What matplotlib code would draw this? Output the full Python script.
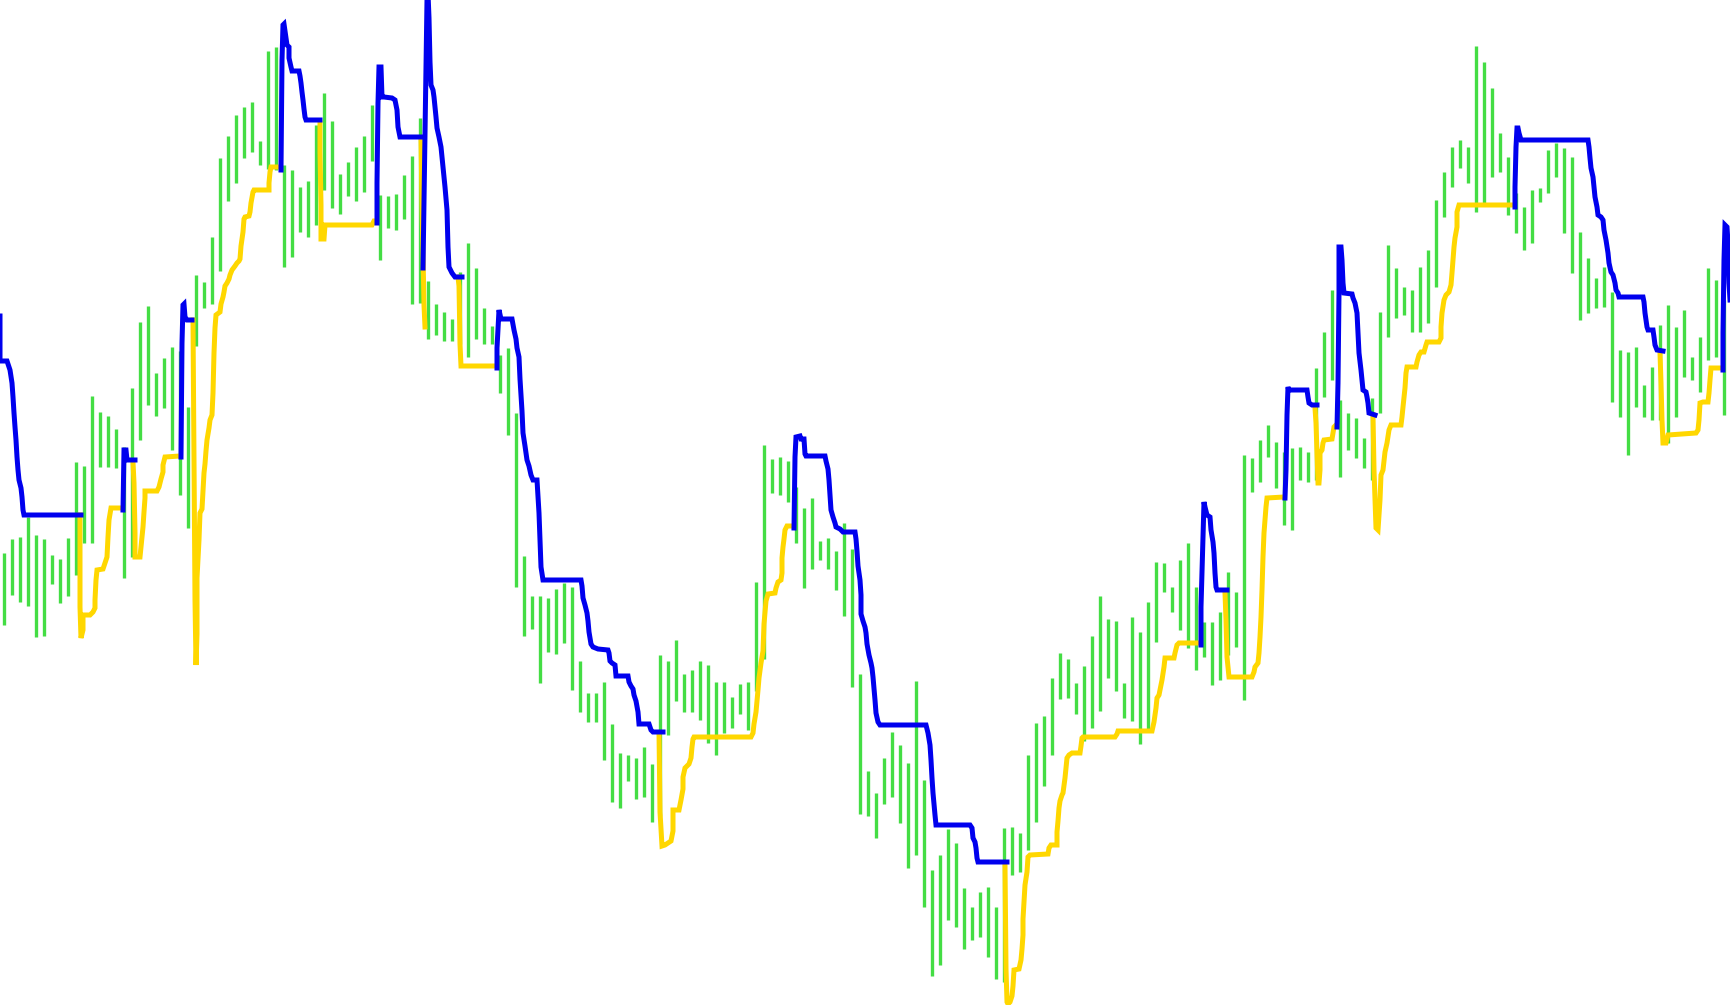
import numpy as np
import matplotlib
matplotlib.use("Agg")
from matplotlib import pyplot as plt

# price bars (each bar = range of a few ticks), high / low
high = [452, 466, 468, 488, 470, 466, 450, 446, 467, 543, 539, 609, 593, 589, 576, 558, 617, 683, 699, 632, 647, 658, 654, 598,
        730, 723, 768, 847, 869, 890, 898, 903, 864, 954, 958, 840, 835, 818, 824, 880, 912, 884, 831, 843, 858, 869, 900, 810,
        809, 811, 830, 849, 887, 724, 701, 693, 686, 733, 762, 737, 697, 679, 650, 657, 592, 449, 409, 409, 407, 416, 422, 418,
        344, 312, 312, 323, 281, 252, 250, 247, 258, 241, 350, 344, 365, 331, 335, 344, 340, 323, 323, 308, 321, 323, 423, 560,
        546, 548, 544, 518, 497, 507, 464, 467, 454, 482, 456, 331, 234, 212, 247, 273, 260, 242, 324, 225, 135, 150, 176, 162,
        117, 98, 113, 118, 98, 177, 178, 172, 250, 282, 289, 327, 352, 346, 322, 339, 369, 409, 386, 384, 322, 388, 373, 403,
        443, 442, 418, 445, 462, 418, 383, 383, 393, 433, 413, 550, 547, 565, 580, 563, 553, 557, 558, 553, 637, 673, 715, 605,
        592, 587, 567, 607, 693, 760, 737, 718, 715, 738, 755, 805, 833, 858, 865, 858, 959, 943, 917, 872, 848, 812, 798, 815,
        817, 855, 862, 857, 848, 773, 747, 727, 738, 713, 655, 653, 658, 620, 638, 680, 700, 678, 695, 648, 668, 737, 725, 705]
low = [380, 410, 403, 399, 368, 369, 421, 402, 409, 430, 462, 462, 538, 538, 537, 427, 448, 565, 600, 589, 597, 555, 510, 477,
       659, 697, 701, 734, 804, 822, 847, 853, 840, 836, 835, 738, 748, 773, 768, 780, 815, 797, 791, 809, 804, 813, 844, 745,
       777, 775, 786, 701, 702, 666, 670, 664, 664, 661, 648, 666, 661, 661, 612, 570, 418, 369, 376, 322, 353, 351, 362, 315,
       293, 283, 283, 245, 203, 197, 224, 206, 208, 183, 189, 270, 304, 293, 293, 285, 262, 250, 272, 277, 291, 275, 314, 346,
       512, 510, 503, 462, 417, 436, 445, 436, 415, 389, 318, 191, 189, 167, 201, 208, 182, 137, 150, 98, 29, 40, 85, 78,
       56, 65, 68, 48, 26, 23, 130, 133, 155, 183, 219, 250, 306, 307, 291, 264, 277, 294, 327, 314, 287, 284, 261, 274,
       363, 413, 393, 375, 357, 335, 348, 320, 325, 350, 358, 305, 513, 523, 548, 517, 480, 475, 525, 523, 525, 608, 625, 528,
       555, 547, 537, 525, 592, 668, 687, 690, 673, 673, 682, 718, 788, 818, 837, 822, 793, 800, 828, 833, 790, 772, 755, 762,
       803, 812, 828, 772, 732, 685, 692, 697, 698, 603, 588, 550, 598, 588, 585, 585, 562, 588, 628, 625, 613, 645, 648, 590]

# trailing stop below price (uptrend), one list of (tick, level) per leg
stop_up = [
    [(40, 490), (40, 398), (40.5, 367), (41.5, 375), (41.5, 390), (45, 390), (46.5, 393), (47.5, 397), (47.5, 405),
     (48, 425), (48.5, 435), (51.5, 436), (52.5, 442), (53.5, 448), (54, 468), (54.5, 485), (55.5, 497), (61, 497)],
    [(66.5, 543), (67, 522), (67.5, 472), (67.5, 448), (70, 448), (71, 468), (71.5, 478), (72, 493), (72.5, 507),
     (72.5, 514), (78.5, 514), (79.5, 518), (80.5, 526), (81.5, 533), (81.5, 540), (82.5, 548), (90, 549)],
    [(96.5, 685), (97.5, 405), (98, 340), (98.5, 371), (98.5, 427), (99.5, 465), (100, 492), (101, 496), (101.5, 514),
     (102, 532), (102.5, 541), (103, 554), (103.5, 565), (104.5, 577), (105, 585), (106, 590), (106.5, 612), (107, 652),
     (107.5, 677), (108, 690), (110, 693), (110.5, 701), (111.5, 708), (112, 713), (112.5, 719), (113.5, 722),
     (114.5, 726), (115, 730), (116, 735), (117.5, 739), (118.5, 742), (119.5, 744), (120, 746), (120.5, 759),
     (121.5, 773), (122, 786), (122.5, 788), (124.5, 789), (125, 793), (125.5, 802), (126.5, 813), (127, 815),
     (134.5, 815), (134.5, 822), (135, 833), (135.5, 838), (139.5, 838)],
    [(160, 882), (160, 853), (160.5, 800), (160.5, 766), (162, 766), (162.5, 780), (186, 780), (187, 784), (187.5, 784)],
    [(210.5, 867), (211, 800), (212, 700), (212.5, 678)],
    [(229, 728), (229.5, 719), (230, 661), (230.5, 639), (248, 639)],
    [(329.5, 272), (330, 193), (331, 159), (332.5, 160), (335.5, 164), (336.5, 174), (336.5, 195), (339.5, 195),
     (340.5, 205), (341.5, 216), (341.5, 228), (342.5, 237), (344.5, 241), (345.5, 247), (346, 258), (346.5, 266),
     (347, 268), (375.5, 268), (376.5, 272), (377, 281), (378, 293), (379, 315), (379.5, 327), (380.5, 342),
     (381.5, 354), (382, 381), (383, 404), (384, 411), (387.5, 412), (388, 417), (389, 423), (390.5, 425), (391, 432),
     (391, 447), (391.5, 458), (392, 466), (392.5, 475), (393.5, 479), (396.5, 479)],
    [(502.5, 140), (503, 36), (503.5, 3), (504, 1), (505, 3), (506, 9), (506.5, 19), (507, 35), (509.5, 36),
     (510.5, 45), (511, 56), (511.5, 70), (511.5, 86), (512, 103), (512.5, 120), (513.5, 133), (514, 148), (515, 150),
     (524, 151), (524.5, 157), (525.5, 160), (528.5, 160), (528.5, 173), (529, 184), (529.5, 197), (530, 204),
     (531, 210), (531.5, 212), (532.5, 227), (533, 237), (533.5, 247), (534.5, 250), (536, 252), (540, 252),
     (540.5, 259), (541, 267), (541.5, 268), (557.5, 268), (558.5, 271), (559, 274), (576, 274), (577, 283),
     (578, 297), (578.5, 307), (579.5, 310), (580, 315), (581, 325), (582, 338), (582.5, 347), (587, 347),
     (587.5, 352), (588.5, 360), (589.5, 362), (599.5, 362)],
    [(612.5, 412), (613, 385), (613.5, 348), (614.5, 328), (626, 328), (627, 333), (627.5, 338), (629, 342),
     (629.5, 352), (630, 368), (630.5, 388), (631, 415), (631.5, 448), (632, 472), (632.5, 485), (633, 498),
     (633.5, 507), (642, 508)],
    [(657.5, 597), (658, 582), (658.5, 552), (659, 522), (659.5, 522), (660, 535), (660, 552), (661, 555),
     (661.5, 562), (662, 565), (666, 566), (666.5, 572), (667, 578), (668, 580)],
    [(686.5, 590), (687, 535), (688, 477), (689, 475), (690, 505), (690.5, 530), (691.5, 535), (692.5, 553),
     (693.5, 562), (694.5, 575), (695.5, 580), (700.5, 580), (701, 588), (701.5, 598), (702.5, 617), (703, 632),
     (703.5, 638), (708, 638), (708.5, 643), (709.5, 650), (710.5, 653), (712, 653), (713, 660), (713.5, 663),
     (719.5, 663), (720.5, 667), (720.5, 678), (721, 692), (722, 705), (723, 710), (724.5, 713), (725.5, 720),
     (726, 732), (726.5, 745), (727, 758), (727.5, 767), (728.5, 778), (728.5, 793), (729.5, 800), (757, 800)],
    [(830, 652), (830.5, 622), (831, 585), (831.5, 562), (833, 562), (834, 570), (848, 572), (849, 575),
     (849.5, 585), (850, 602), (851.5, 603), (854, 603), (854.5, 612), (855, 625), (855.5, 637), (860.5, 637)],
]

# trailing stop above price (downtrend)
stop_dn = [
    [(0, 689), (0, 644), (3.5, 644), (5, 635), (6, 622), (6.5, 608), (7, 592), (7.5, 578), (8, 565), (8.5, 548),
     (9, 535), (9.5, 525), (10.5, 517), (11, 508), (11.5, 495), (12, 490), (40.5, 490)],
    [(61.5, 495), (62, 555), (63, 555), (63.5, 545), (67.5, 545)],
    [(90.5, 548), (91, 662), (91.5, 700), (92, 701), (92.5, 688), (93.5, 685), (96, 685)],
    [(140.5, 835), (141, 945), (141.5, 980), (142, 981), (142.5, 974), (143.5, 960), (144.5, 958), (144.5, 947),
     (145.5, 938), (146, 934), (149.5, 934), (150, 929), (150.5, 922), (151, 913), (151.5, 905), (152, 896),
     (152.5, 888), (153, 885), (160, 885)],
    [(188.5, 782), (188.5, 822), (189, 902), (189.5, 938), (190.5, 938), (191, 908), (192, 908), (196, 907),
     (197.5, 905), (198.5, 895), (199, 878), (200, 868), (211, 868)],
    [(211.5, 737), (213.5, 1005), (214, 1012), (214.5, 987), (215, 943), (215.5, 920), (216.5, 915), (217, 908),
     (218, 888), (218.5, 877), (219.5, 868), (220.5, 858), (221.5, 838), (222.5, 818), (223.5, 795), (224, 758),
     (224.5, 738), (226, 732), (227.5, 728), (231, 728)],
    [(248.5, 637), (248.5, 657), (249.5, 695), (250.5, 686), (256, 686), (257, 675), (258, 666), (258.5, 657),
     (259.5, 648), (260, 626), (261, 594), (261.5, 572), (262.5, 559), (263.5, 545), (264.5, 539), (265.5, 530),
     (266.5, 525), (268.5, 525), (269.5, 492), (270.5, 438), (271.5, 425), (290.5, 425), (291, 419), (291.5, 407),
     (292.5, 400), (293.5, 392), (294, 384), (294.5, 373), (295.5, 361), (296.5, 358), (299, 356), (304, 355),
     (304.5, 352), (305, 344), (306, 342), (307.5, 340), (308, 329), (314, 329), (314.5, 323), (315.5, 319),
     (316.5, 316), (317, 310), (318, 304), (319, 293), (319.5, 281), (324.5, 281), (325.5, 275), (326.5, 273),
     (331.5, 273)],
    [(397, 477), (397.5, 548), (398, 568), (400, 569), (400.5, 566), (402, 566), (402.5, 551), (403, 549),
     (412.5, 549), (413, 544), (414, 536), (414.5, 525), (415, 510), (415.5, 495), (416.5, 488), (417.5, 482),
     (418, 478), (420, 476), (421.5, 473), (427.5, 473), (428, 466), (428.5, 454), (429, 439), (430, 425),
     (430.5, 410), (430.5, 391), (431.5, 384), (432.5, 378), (433, 372), (433.5, 361), (434.5, 350), (435.5, 342),
     (436, 337), (436.5, 328), (437.5, 305), (438, 292), (439, 283), (440, 280), (463, 280), (464, 272), (465, 260),
     (465.5, 245), (466, 227), (466.5, 212), (467.5, 190), (468, 180), (485, 180), (486, 177), (486.5, 167),
     (487.5, 163), (488, 157), (488.5, 147), (489, 143), (503.5, 143)],
    [(600.5, 360), (600.5, 398), (601.5, 468), (602, 503), (602.5, 498), (603.5, 490), (605, 488), (605.5, 475),
     (606.5, 463), (607, 452), (607.5, 432), (608, 418), (608.5, 415), (613.5, 415)],
    [(642.5, 507), (643, 535), (643.5, 590), (644, 618), (644.5, 615), (653.5, 615), (654, 608), (654.5, 602),
     (656, 600), (658.5, 600)],
    [(668.5, 578), (669, 622), (669.5, 712), (669.5, 758), (670.5, 758), (671, 745), (671.5, 722), (672, 712),
     (676, 711), (676.5, 707), (677.5, 702), (678.5, 692), (679, 672), (679.5, 652), (680.5, 635), (681, 625),
     (681.5, 615), (683, 613), (683.5, 608), (684, 602), (684.5, 592), (687.5, 590)],
    [(757.5, 798), (757.5, 818), (758, 858), (758.5, 877), (759, 877), (759.5, 872), (760.5, 865), (794, 865),
     (794.5, 858), (795, 847), (795.5, 837), (796.5, 828), (797, 818), (797.5, 808), (798.5, 798), (799, 790),
     (800.5, 788), (801.5, 785), (802, 775), (803, 765), (804, 752), (804.5, 742), (805.5, 733), (806.5, 730),
     (807.5, 722), (808, 715), (809, 712), (809.5, 708), (821.5, 708), (822, 703), (822.5, 692), (823.5, 678),
     (824, 675), (826.5, 675), (827, 668), (827.5, 660), (828.5, 655), (831.5, 654)],
    [(861.5, 635), (861.5, 672), (862, 745), (862.5, 780), (863.5, 778), (864, 762), (864.5, 722), (865, 705)],
]

n_ticks = 865
ticks_per_bar = 4

fig = plt.figure(figsize=(17.3, 10.05), dpi=100)
ax = fig.add_axes([0, 0, 1, 1])
ax.set_axis_off()

t = np.arange(len(high)) * ticks_per_bar + ticks_per_bar / 2
ax.vlines(t, low, high, colors="#44dd44", linewidth=2.4)

for leg in stop_up:
    a = np.array(leg)
    ax.plot(a[:, 0], a[:, 1], color="#ffd700", linewidth=3.6, solid_joinstyle="miter")
for leg in stop_dn:
    a = np.array(leg)
    ax.plot(a[:, 0], a[:, 1], color="#0000ee", linewidth=3.6, solid_joinstyle="miter")

ax.set_xlim(0, n_ticks)
ax.set_ylim(0, 1005)

fig.savefig("out.png", dpi=100, facecolor="white")
